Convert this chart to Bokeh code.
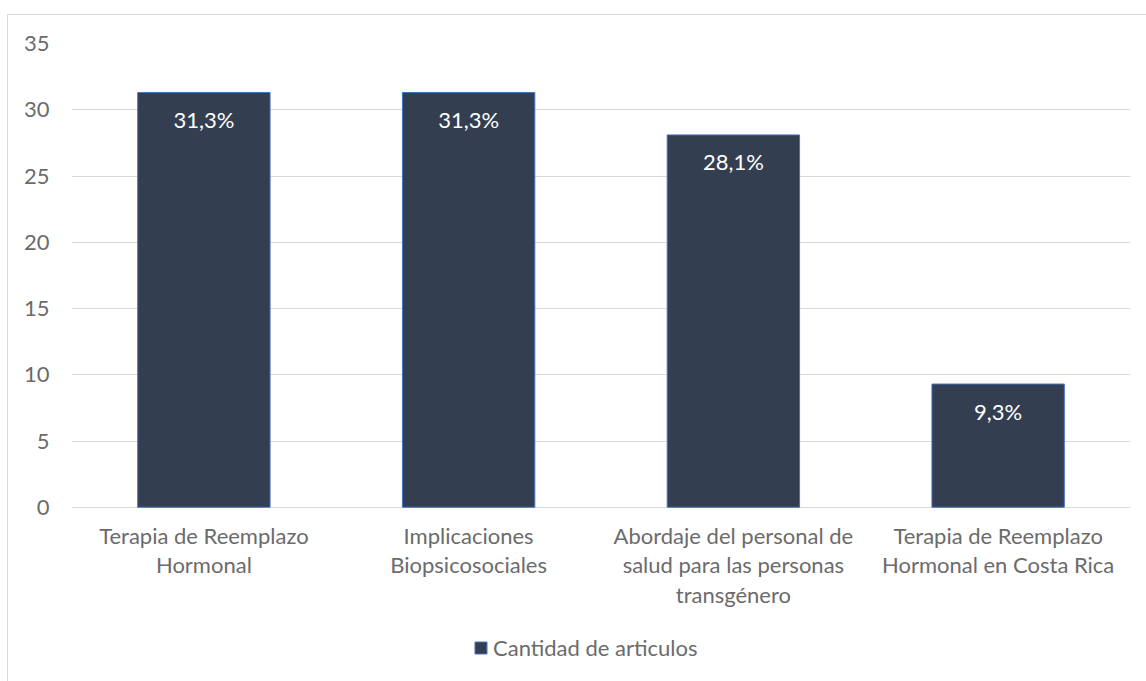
from bokeh.plotting import figure
from bokeh.models import ColumnDataSource, Legend, LegendItem, FixedTicker
from bokeh.core.properties import value
from bokeh.embed import file_html
from bokeh.resources import INLINE

categories = [
    "Terapia de Reemplazo Hormonal",
    "Implicaciones Biopsicosociales",
    "Abordaje del personal de salud para las personas transgénero",
    "Terapia de Reemplazo Hormonal en Costa Rica",
]
tick_labels = [
    "Terapia de Reemplazo\nHormonal",
    "Implicaciones\nBiopsicosociales",
    "Abordaje del personal de\nsalud para las personas\ntransgénero",
    "Terapia de Reemplazo\nHormonal en Costa Rica",
]
values = [31.3, 31.3, 28.1, 9.3]
labels = ["31,3%", "31,3%", "28,1%", "9,3%"]
y_ticks = [0, 5, 10, 15, 20, 25, 30, 35]
series_name = "Cantidad de articulos"

FONT = "Lato"
FS = "22px"
GRAY = "#6b6b6b"
LINE_GAP = 29.5

# frame extends below zero so the wrapped category labels can be drawn in it
Y_MAX = 35
Y_MIN = -13.15

src = ColumnDataSource(dict(cat=categories, val=values, lab=labels))

# one row per label line
lx, ly, lt, loff = [], [], [], []
for c, t in zip(categories, tick_labels):
    for i, line in enumerate(t.split("\n")):
        lx.append(c)
        ly.append(0)
        lt.append(line)
        loff.append(28 + LINE_GAP * i)
lsrc = ColumnDataSource(dict(x=lx, y=ly, t=lt, off=loff))

p = figure(
    x_range=categories, y_range=(Y_MIN, Y_MAX),
    frame_width=1059, frame_height=638,
    min_border_left=63, min_border_right=16, min_border_top=28, min_border_bottom=0,
    x_axis_location=None,
    output_backend="svg", toolbar_location=None,
    background_fill_color="white", border_fill_color="white",
)
p.outline_line_color = None
p.styles = {"border-left": "1px solid #D9D9D9", "border-top": "1px solid #D9D9D9",
            "margin-top": "14px", "margin-left": "7px"}

r = p.vbar(x="cat", top="val", width=0.5, source=src,
           fill_color="#333F50", line_color="#4472C4", line_width=1)

p.text(x="cat", y="val", text="lab", source=src, text_color="white",
       text_font=value(FONT), text_font_size=FS, text_align="center",
       text_baseline="alphabetic", y_offset=27)

p.text(x="x", y="y", text="t", source=lsrc, text_color=GRAY,
       text_font=value(FONT), text_font_size=FS, text_align="center",
       text_baseline="alphabetic", y_offset="off")

p.xgrid.grid_line_color = None
p.ygrid.grid_line_color = "#D9D9D9"
p.ygrid.grid_line_width = 1

p.yaxis.ticker = FixedTicker(ticks=y_ticks)
p.yaxis.axis_line_color = None
p.yaxis.major_tick_line_color = None
p.yaxis.minor_tick_line_color = None
p.yaxis.major_label_text_font = FONT
p.yaxis.major_label_text_font_size = FS
p.yaxis.major_label_text_color = GRAY
p.yaxis.major_label_standoff = 16

legend = Legend(items=[LegendItem(label=series_name, renderers=[r])],
                orientation="horizontal", location=(402, 20),
                label_text_font=FONT, label_text_font_size=FS,
                label_text_color=GRAY, glyph_width=15, glyph_height=15,
                label_standoff=5, border_line_color=None, background_fill_alpha=0,
                padding=0, margin=0, spacing=0)
p.add_layout(legend)

open("out.html", "w").write(file_html(p, INLINE))
